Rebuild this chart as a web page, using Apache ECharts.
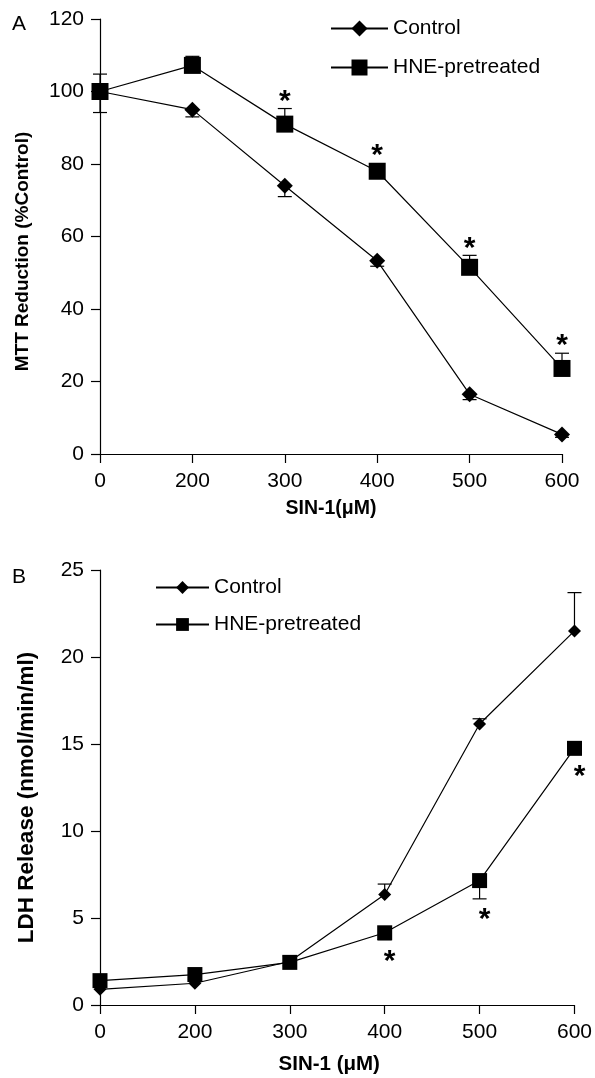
<!DOCTYPE html>
<html>
<head>
<meta charset="utf-8">
<script src="https://cdn.jsdelivr.net/npm/echarts@6/dist/echarts.min.js"></script>
<style>
  html, body { margin: 0; padding: 0; background: #fff; }
  #chart { width: 595px; height: 1078px; }
</style>
</head>
<body>
<div id="chart"></div>
<script>
var doses = ['0', '200', '300', '400', '500', '600'];

// A: MTT reduction (%Control)
var mttControl = [100, 95, 74, 53.3, 16.5, 5.4];
var mttControlErr = [5.8, 2, 3, 1.5, 1.5, 0.8];   // drawn downward
var mttHne = [100, 107.2, 91, 78, 51.5, 23.6];
var mttHneErr = [4.8, 2.5, 4.3, 1.5, 3.3, 4.2];   // drawn upward
var mttHneSig = [0, 0, 1, 1, 1, 1];

// B: LDH release (nmol/min/ml)
var ldhControl = [0.9, 1.25, 2.5, 6.35, 16.15, 21.5];
var ldhControlErr = [0.2, 0.2, 0.3, 0.6, 0.3, 2.2]; // drawn upward
var ldhHne = [1.4, 1.75, 2.45, 4.15, 7.15, 14.75];
var ldhHneErr = [0.2, 0.2, 0.2, 0.4, 1.05, 0.3];   // drawn downward
var ldhHneSig = [0, 0, 0, 1, 1, 1];

var FONT = '"Liberation Sans", Arial, Helvetica, sans-serif';
var black = '#000';

function errBars(idx, vals, errs, dir, sig, markSize, astDx) {
    return {
        type: 'custom',
        xAxisIndex: idx,
        yAxisIndex: idx,
        z: 1,
        silent: true,
        data: vals.map(function (v, i) { return [i, v, errs[i], sig ? sig[i] : 0]; }),
        renderItem: function (params, api) {
            var i = api.value(0), v = api.value(1), e = api.value(2);
            var p0 = api.coord([i, v]);
            var p1 = api.coord([i, v + dir * e]);
            var cap = 7;
            var kids = [
                { type: 'line', shape: { x1: p0[0], y1: p0[1], x2: p1[0], y2: p1[1] },
                  style: { stroke: black, lineWidth: 1.2 } },
                { type: 'line', shape: { x1: p1[0] - cap, y1: p1[1], x2: p1[0] + cap, y2: p1[1] },
                  style: { stroke: black, lineWidth: 1.2 } }
            ];
            if (api.value(3)) {
                // asterisk just beyond the bar end (glyph sits high in its box, hence +7)
                var edge = Math.max(Math.abs(p1[1] - p0[1]), markSize / 2);
                var y = p0[1] - dir * (edge + 14) + 7;
                kids.push({
                    type: 'text', x: p0[0] + astDx, y: y,
                    style: { text: '*', fill: black, font: 'bold 30px ' + FONT,
                             align: 'center', verticalAlign: 'middle' }
                });
            }
            return { type: 'group', children: kids };
        }
    };
}

function lineSeries(idx, name, vals, symbol, size) {
    return {
        type: 'line',
        name: name,
        xAxisIndex: idx,
        yAxisIndex: idx,
        data: vals,
        symbol: symbol,
        symbolSize: size,
        z: 3,
        itemStyle: { color: black },
        lineStyle: { color: black, width: 1.2 },
        emphasis: { disabled: true }
    };
}

var axisLine = { show: true, lineStyle: { color: black, width: 1.2 } };
var axisTick = { show: true, length: 9, lineStyle: { color: black, width: 1.2 } };

function xAxis(idx, title, gap, size, pad) {
    return {
        type: 'category', gridIndex: idx, data: doses, boundaryGap: false,
        axisLine: axisLine, axisTick: axisTick, splitLine: { show: false },
        axisLabel: { color: black, fontFamily: FONT, fontSize: 21, margin: 17 },
        name: title, nameLocation: 'middle', nameGap: gap,
        nameTextStyle: { color: black, fontFamily: FONT, fontSize: size, fontWeight: 'bold', padding: pad }
    };
}

function yAxis(idx, title, max, step, gap, size, pad) {
    return {
        type: 'value', gridIndex: idx, min: 0, max: max, interval: step,
        axisLine: axisLine, axisTick: axisTick, splitLine: { show: false },
        axisLabel: { color: black, fontFamily: FONT, fontSize: 21, margin: 16 },
        name: title, nameLocation: 'middle', nameGap: gap,
        nameTextStyle: { color: black, fontFamily: FONT, fontSize: size, fontWeight: 'bold', padding: pad }
    };
}

var legendText = { color: black, fontFamily: FONT, fontSize: 21 };

var chart = echarts.init(document.getElementById('chart'));
chart.setOption({
    backgroundColor: '#fff',
    animation: false,
    title: [
        { text: 'A', left: 7, top: 9, textStyle: { fontFamily: FONT, fontSize: 21, fontWeight: 'normal', color: black } },
        { text: 'B', left: 7, top: 562, textStyle: { fontFamily: FONT, fontSize: 21, fontWeight: 'normal', color: black } }
    ],
    grid: [
        { left: 100, right: 33, top: 19, height: 435 },
        { left: 100, right: 18, top: 570, height: 435 }
    ],
    legend: [
        { orient: 'vertical', data: ['Control', 'HNE-pretreated'], selectedMode: false, padding: 0,
          left: 330, top: 18, itemWidth: 57, itemHeight: 20, itemGap: 18, textStyle: legendText },
        { orient: 'vertical', data: ['Control', 'HNE-pretreated'], selectedMode: false, padding: 0,
          left: 155, top: 577, itemWidth: 53, itemHeight: 16, itemGap: 16, textStyle: legendText }
    ],
    xAxis: [
        xAxis(0, 'SIN-1(\u03bcM)', 45, 19.5, 0),
        xAxis(1, 'SIN-1 (\u03bcM)', 49, 20.5, [0, 16, 0, 0])
    ],
    yAxis: [
        yAxis(0, 'MTT Reduction (%Control)', 120, 20, 68, 19, [0, 30, 0, 0]),
        yAxis(1, 'LDH Release (nmol/min/ml)', 25, 5, 62, 22.5, [0, 20, 0, 0])
    ],
    series: [
        errBars(0, mttControl, mttControlErr, -1, null, 16, 0),
        errBars(0, mttHne, mttHneErr, 1, mttHneSig, 17, 0),
        lineSeries(0, 'Control', mttControl, 'diamond', [16, 16]),
        lineSeries(0, 'HNE-pretreated', mttHne, 'rect', [17, 17]),
        errBars(1, ldhControl, ldhControlErr, 1, null, 13, 0),
        errBars(1, ldhHne, ldhHneErr, -1, ldhHneSig, 15, 5),
        lineSeries(1, 'Control', ldhControl, 'diamond', [13, 13]),
        lineSeries(1, 'HNE-pretreated', ldhHne, 'rect', [15, 15])
    ]
});
</script>
</body>
</html>
